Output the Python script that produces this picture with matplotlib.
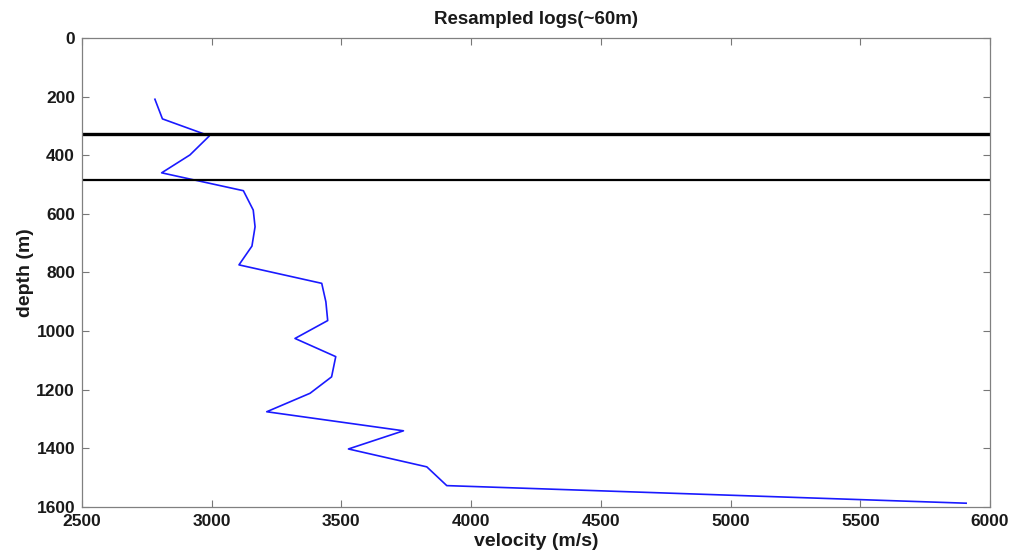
import matplotlib
matplotlib.use("Agg")
import matplotlib.pyplot as plt

# velocity log resampled at ~60m
velocity = [2781, 2810, 2991, 2916, 2807, 3122, 3160, 3167, 3155, 3105, 3424, 3440,
            3447, 3321, 3478, 3462, 3379, 3212, 3739, 3527, 3829, 3906, 5908]
depth = [209, 276, 334, 399, 460, 521, 587, 644, 710, 774, 837, 900,
         964, 1025, 1087, 1156, 1212, 1275, 1340, 1402, 1463, 1527, 1587]

# horizons
horizon_depths = [328, 484]
horizon_widths = [2.4, 1.6]

xticks = [2500, 3000, 3500, 4000, 4500, 5000, 5500, 6000]
yticks = [0, 200, 400, 600, 800, 1000, 1200, 1400, 1600]

plt.rcParams['font.family'] = ['Liberation Sans', 'DejaVu Sans']
plt.rcParams['font.weight'] = 'bold'

fig = plt.figure(figsize=(10.15, 5.56), dpi=100)
ax = fig.add_axes([0.0808, 0.0881, 0.8946, 0.8436])

ax.plot(velocity, depth, color='#1a1aff', lw=1.2)
for d, w in zip(horizon_depths, horizon_widths):
    ax.axhline(d, color='black', lw=w)

ax.set_xlim(2500, 6000)
ax.set_ylim(1600, 0)
ax.set_xticks(xticks)
ax.set_yticks(yticks)
ax.tick_params(direction='in', top=True, right=True, length=5, labelsize=12.5,
               width=0.8, color='#777777', labelcolor='#1a1a1a', pad=5)
for lab in ax.get_xticklabels() + ax.get_yticklabels():
    lab.set_fontweight('bold')
for s in ax.spines.values():
    s.set_linewidth(0.9)
    s.set_color('#808080')

ax.set_xlabel('velocity (m/s)', fontsize=14, fontweight='bold', labelpad=3, color='#1a1a1a')
ax.set_ylabel('depth (m)', fontsize=14, fontweight='bold', labelpad=2, color='#1a1a1a')
ax.set_title('Resampled logs(~60m)', fontsize=13.5, fontweight='bold', pad=10, color='#1a1a1a')

fig.savefig('out.png', dpi=100)
